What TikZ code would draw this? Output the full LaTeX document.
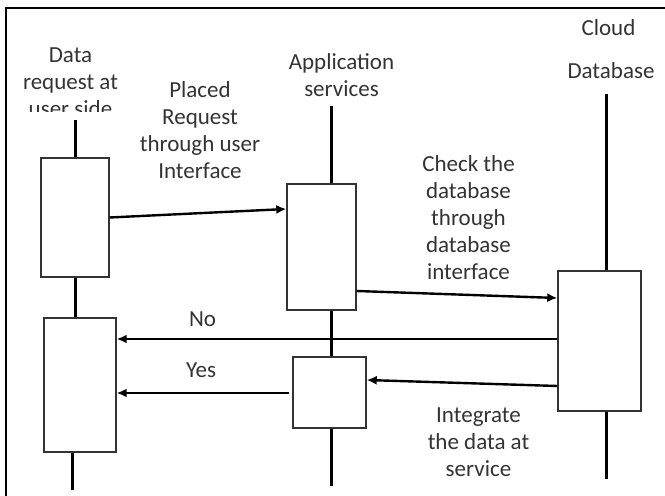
\documentclass[tikz,border=0pt]{standalone}
\usepackage{fontspec}
\setmainfont{Carlito}
\usetikzlibrary{arrows.meta}
\begin{document}
\begin{tikzpicture}[x=0.5pt, y=-0.5pt,
    every node/.style={font=\fontsize{11.5}{13.5}\selectfont, text=black!80, inner sep=0pt},
    act/.style={draw=black!80, line width=0.7pt, fill=white},
    life/.style={line width=1.5pt},
    msg/.style={line width=1.2pt, -{Latex[length=5pt,width=4.5pt]}}]
  \useasboundingbox (0,0) rectangle (665,496);
  \clip (0,0) rectangle (665,496);
  \draw [line width=1.1pt] (6,8) rectangle (690,520);
  % activation boxes
  \node [act, minimum width=34pt, minimum height=59.5pt] (ubox1) at (75,217.5) {};
  \node [act, minimum width=36pt, minimum height=67pt] (ubox2) at (80,385) {};
  \node [act, minimum width=34.5pt, minimum height=63pt] (abox1) at (321.5,247) {};
  \node [act, minimum width=36.5pt, minimum height=35.5pt] (abox2) at (329.5,392.5) {};
  \node [act, minimum width=41.5pt, minimum height=70pt] (cbox) at (599.5,341) {};
  % lifelines
  \coordinate (utop) at (75,120);
  \coordinate (ubot) at (72,490);
  \coordinate (atop) at (331,106);
  \coordinate (abot) at (331,486);
  \coordinate (ctop) at (606,94);
  \coordinate (cbot) at (606,479);
  \draw [life] (utop) -- (ubox1.north -| utop);
  \draw [life] (ubox1.south -| utop) -- (ubox2.north -| utop);
  \draw [life] (ubox2.south -| ubot) -- (ubot);
  \draw [life] (atop) -- (abox1.north -| atop);
  \draw [life] (abox1.south -| atop) -- (abox2.north -| atop);
  \draw [life] (abox2.south -| atop) -- (abot);
  \draw [life] (ctop) -- (cbox.north -| ctop);
  \draw [life] (cbox.south -| ctop) -- (cbot);
  % messages
  \coordinate (yesstart) at (289,393);
  \draw [msg] (ubox1.east) -- (abox1.west |- 0,209);
  \draw [msg] (abox1.east |- 0,291) -- (cbox.west |- 0,298);
  \draw [msg] (cbox.west |- 0,339) -- (ubox2.east |- 0,339);
  \draw [msg] (cbox.west |- 0,386) -- (abox2.east |- 0,380);
  \draw [msg] (yesstart) -- (ubox2.east |- yesstart);
  % labels
  \begin{scope}
    \clip (0,0) rectangle (665,112);
    \node [align=center] (ulbl) at (70.5,82) {Data\\request at\\user side};
  \end{scope}
  \node [align=center] (albl) at (341.5,75.5) {Application\\services};
  \node (clbl) at (608.5,28) {Cloud};
  \node (dlbl) at (611,71) {Database};
  \node [align=center] (reqlbl) at (200,130) {Placed\\Request\\through user\\Interface};
  \node [align=center] (chklbl) at (468.5,218) {Check the\\database\\through\\database\\interface};
  \node (nolbl) at (202.5,319) {No};
  \node (yeslbl) at (201,370) {Yes};
  \node [align=center] (intlbl) at (478.5,442) {Integrate\\the data at\\service};
\end{tikzpicture}
\end{document}
